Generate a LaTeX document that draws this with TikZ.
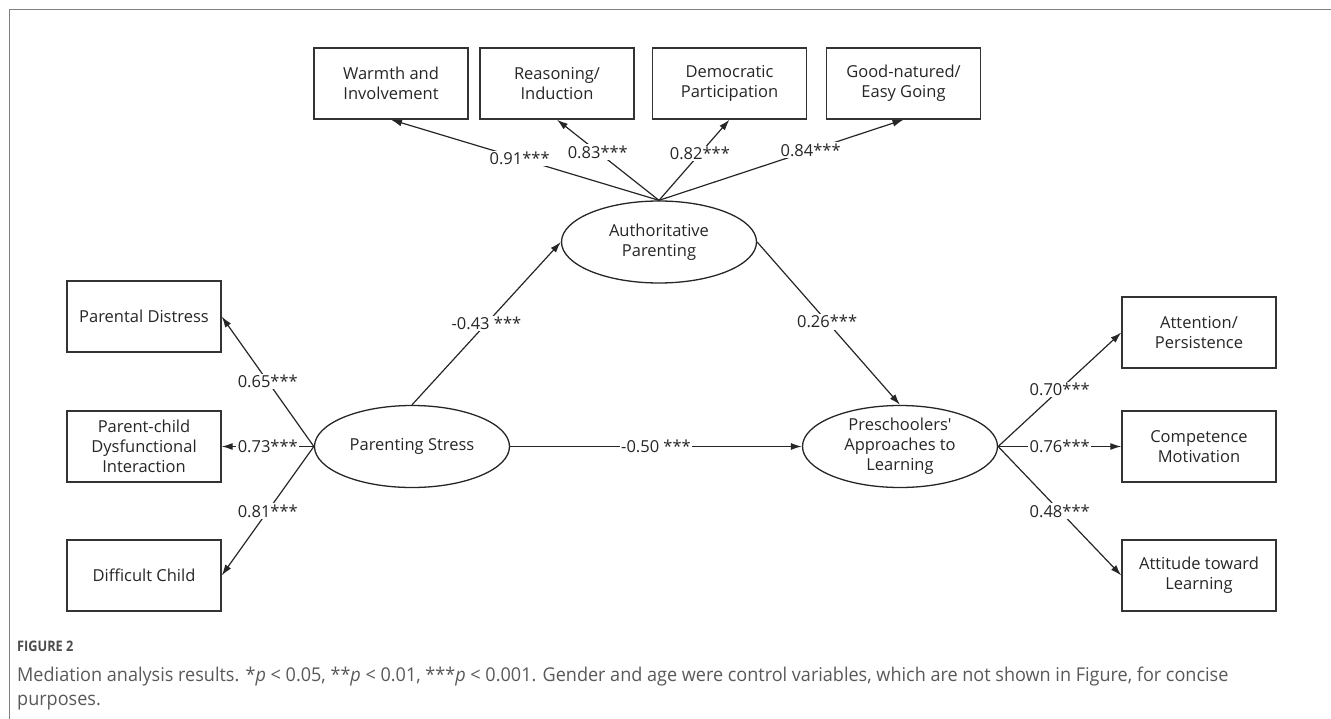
\documentclass[tikz,border=0pt]{standalone}
\usepackage{fontspec}
\setmainfont{Open Sans}
\newfontfamily\capfont[FakeStretch=0.95]{Open Sans}
\newfontfamily\figfont[FakeStretch=0.88]{Open Sans}
\usetikzlibrary{arrows.meta,shapes.geometric}

\begin{document}
\begin{tikzpicture}[x=1pt,y=-1pt,
  every node/.style={font=\fontsize{16.5}{20}\selectfont, text=black!85},
  box/.style={draw=black!80, line width=1.4pt, minimum width=154pt, minimum height=71pt, align=center, inner sep=0pt},
  latent/.style={draw=black!85, ellipse, line width=1.3pt, minimum width=195pt, minimum height=82pt, align=center, inner sep=0pt},
  link/.style={draw=black!85, line width=1.2pt, -{Latex[length=11pt,width=7pt]}},
  coef/.style={fill=white, inner sep=1.5pt}]
\useasboundingbox (0,0) rectangle (1331,719);
% frame of the figure
\draw[black!50, line width=1.3pt] (9.5,719) -- (9.5,9.5) -- (1331,9.5);

% latent variables
\node[latent] (auth) at (659,242) {Authoritative\\Parenting};
\node[latent] (stress) at (412,446.5) {Parenting Stress};
\node[latent] (pre) at (900,446.5) {Preschoolers\textquotesingle\\Approaches to\\Learning};

% indicators
\node[box] (warmth) at (391,83.5) {Warmth and\\Involvement};
\node[box] (reason) at (557,83.5) {Reasoning/\\Induction};
\node[box] (democ) at (729.5,83.5) {Democratic\\Participation};
\node[box] (goodnat) at (903.5,83.5) {Good-natured/\\Easy Going};
\node[box] (pdist) at (144,316.5) {Parental Distress};
\node[box] (pcdi) at (144,446.5) {Parent-child\\Dysfunctional\\Interaction};
\node[box] (dchild) at (144,575.5) {Difficult Child};
\node[box] (attn) at (1199,332.5) {Attention/\\Persistence};
\node[box] (comp) at (1199,446.5) {Competence\\Motivation};
\node[box] (attit) at (1199,575.5) {Attitude toward\\Learning};

% loadings
\draw[link] (auth.north) -- (warmth.south) node[coef, pos=0.52] {0.91***};
\draw[link] (auth.north) -- (reason.south) node[coef, pos=0.6] {0.83***};
\draw[link] (auth.north) -- (democ.south) node[coef, pos=0.58] {0.82***};
\draw[link] (auth.north) -- (goodnat.south) node[coef, pos=0.62] {0.84***};
\draw[link] (stress.west) -- (pdist.east) node[coef, pos=0.5] {0.65***};
\draw[link] (stress.west) -- (pcdi.east) node[coef, pos=0.5] {0.73***};
\draw[link] (stress.west) -- (dchild.east) node[coef, pos=0.5] {0.81***};
\draw[link] (pre.east) -- (attn.west) node[coef, pos=0.5] {0.70***};
\draw[link] (pre.east) -- (comp.west) node[coef, pos=0.5] {0.76***};
\draw[link] (pre.east) -- (attit.west) node[coef, pos=0.5] {0.48***};

% structural paths
\draw[link] (stress.north) -- (auth.west) node[coef, pos=0.5] {-0.43 ***};
\draw[link] (auth.east) -- (pre.north) node[coef, pos=0.49] {0.26***};
\draw[link] (stress.east) -- (pre.west) node[coef, pos=0.5] {-0.50 ***};

% caption
\node[anchor=west, inner sep=0pt, font=\figfont\bfseries\fontsize{14.5}{16}\selectfont, text=black!70] (fig) at (17,646) {FIGURE 2};
\node[anchor=north west, align=left, inner sep=0pt, font=\capfont\fontsize{19}{24}\selectfont, text=black!65] (cap) at (17,667)
  {Mediation analysis results. *\textit{p} < 0.05, **\textit{p} < 0.01, ***\textit{p} < 0.001. Gender and age were control variables, which are not shown in Figure, for concise\\purposes.};
\end{tikzpicture}
\end{document}
